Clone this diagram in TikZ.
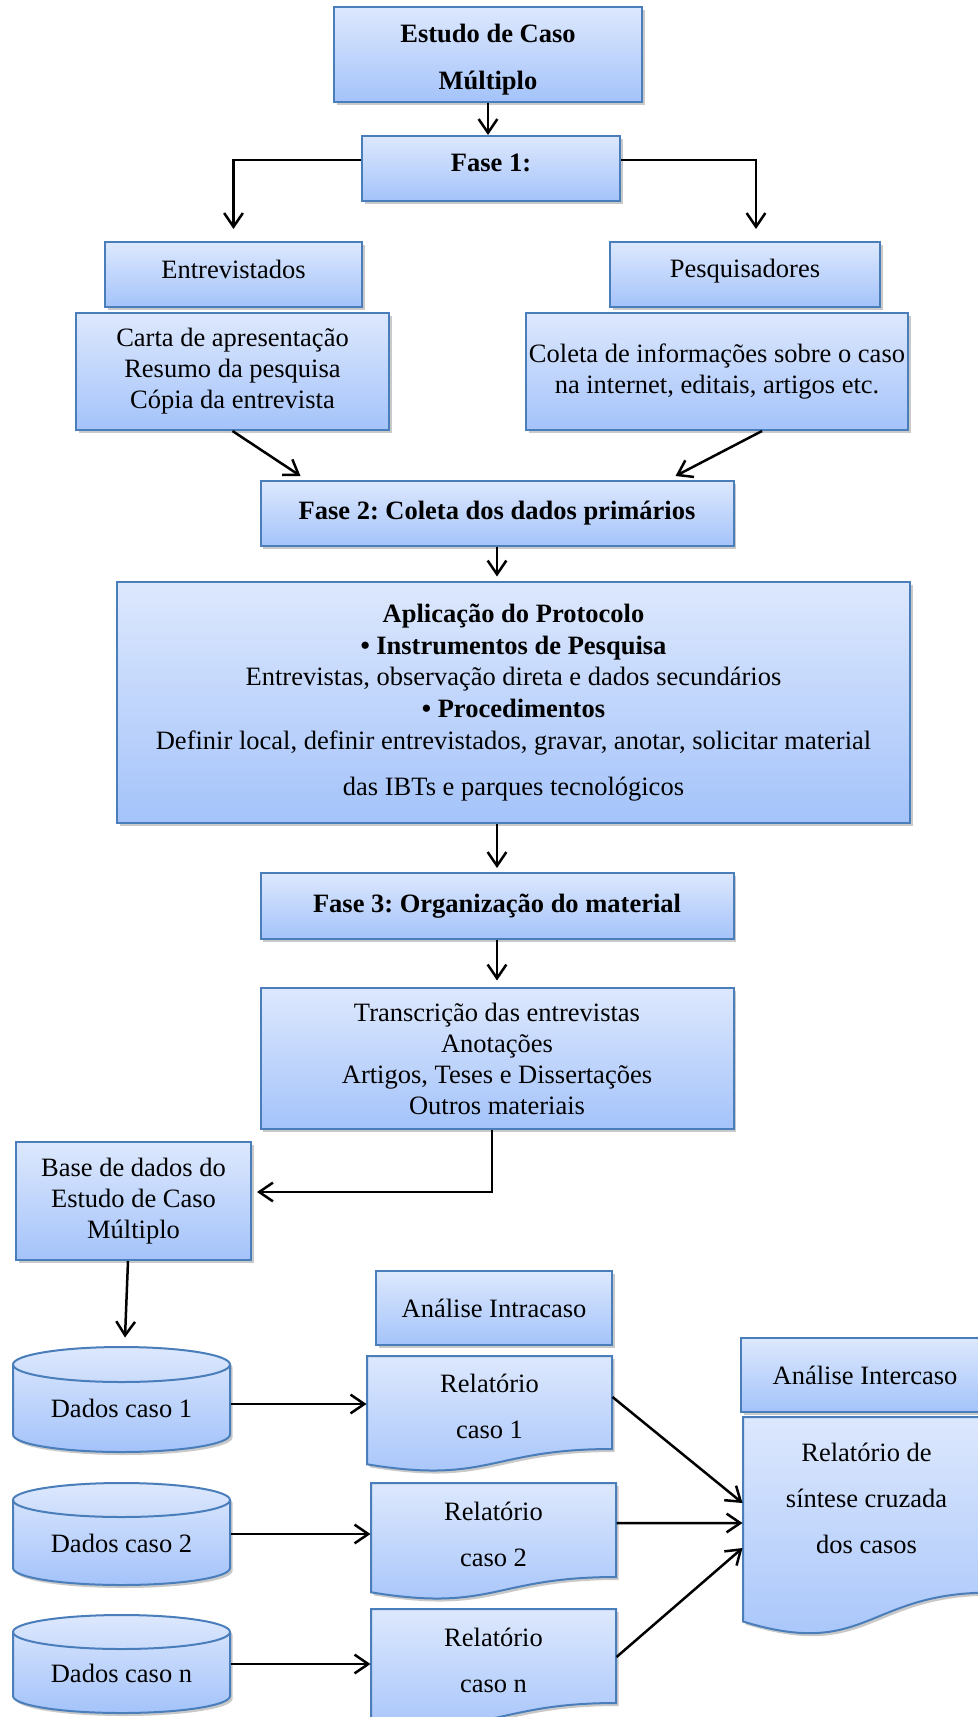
\documentclass[tikz,border=0pt]{standalone}
\usepackage{fontspec}
\setmainfont{Liberation Serif}
\usetikzlibrary{arrows.meta,shadows}
\frenchspacing
\newcommand{\sink}[1]{\rule[-#1]{0pt}{#1}}

\begin{document}
\begin{tikzpicture}[x=0.4pt, y=0.4pt,
    font=\fontsize{10.6}{12.4}\selectfont,
    heavy/.style={font=\fontsize{10.6}{12.4}\selectfont\bfseries},
    box/.style={draw=boxline, line width=0.8pt,
        top color=boxtop, bottom color=boxbot,
        drop shadow={shadow xshift=1pt, shadow yshift=-1.2pt,
                     opacity=0.3, fill=black!70}},
    rbox/.style 2 args={box, rectangle, inner sep=0pt, align=center,
        minimum width=#1*0.4pt, minimum height=#2*0.4pt},
    label/.style 2 args={rectangle, inner sep=0pt, align=center,
        minimum width=#1*0.4pt, minimum height=#2*0.4pt},
    flow/.style={line width=1pt, -{Straight Barb[length=5.5pt,width=7.5pt]}}]
    \definecolor{boxtop}{RGB}{221,232,253}
    \definecolor{boxbot}{RGB}{164,195,250}
    \definecolor{boxline}{RGB}{74,126,187}

    \useasboundingbox (0,0) rectangle (978,-1717);

    % Fase 1
    \node[rbox={308}{95}, heavy] (est) at (488,-54.5)
         {\rule{0pt}{11.6pt}Estudo de Caso\\[6.4pt]Múltiplo};
    \node[rbox={258}{65}, heavy] (f1) at (491,-168.5) {Fase 1:\sink{4.4pt}};
    \node[rbox={257}{65}] (ent) at (233.5,-274.5) {Entrevistados\sink{4.4pt}};
    \node[rbox={270}{65}] (pes) at (745,-274.5) {Pesquisadores\sink{4.7pt}};
    \node[rbox={313}{117}] (carta) at (232.5,-371.5)
         {Carta de apresentação\\Resumo da pesquisa\\Cópia da entrevista};
    \node[rbox={382}{117}] (colet) at (717,-371.5)
         {Coleta de informações sobre o caso\\na internet, editais, artigos etc.};

    % Fase 2
    \node[rbox={473}{65}, heavy] (f2) at (497,-513.5)
         {Fase 2: Coleta dos dados primários};
    \node[rbox={793}{241}] (apl) at (513.5,-702.5)
         {\textbf{Aplicação do Protocolo}\\[0.3pt]
          \textbf{• Instrumentos de Pesquisa}\\[0.3pt]
          Entrevistas, observação direta e dados secundários\\[0.3pt]
          \textbf{• Procedimentos}\\[0.3pt]
          Definir local, definir entrevistados, gravar, anotar, solicitar material\\[6pt]
          das IBTs e parques tecnológicos};

    % Fase 3
    \node[rbox={473}{66}, heavy] (f3) at (497,-906)
         {Fase 3: Organização do material};
    \node[rbox={473}{141}] (trans) at (497,-1058.5)
         {Transcrição das entrevistas\\Anotações\\Artigos, Teses e Dissertações\\Outros materiais};
    \node[rbox={235}{118}] (base) at (133.5,-1201)
         {Base de dados do\\Estudo de Caso\\Múltiplo};

    % databases
    \path[box] (13,-1364.5) -- (13,-1434.5) arc (180:360:108.5 and 17.5)
          -- (230,-1364.5) arc (0:180:108.5 and 17.5) -- cycle;
    \draw[boxline, line width=0.8pt] (13,-1364.5) arc (180:360:108.5 and 17.5);
    \path[box] (13,-1500) -- (13,-1568) arc (180:360:108.5 and 17)
          -- (230,-1500) arc (0:180:108.5 and 17) -- cycle;
    \draw[boxline, line width=0.8pt] (13,-1500) arc (180:360:108.5 and 17);
    \path[box] (13,-1632) -- (13,-1696) arc (180:360:108.5 and 17)
          -- (230,-1632) arc (0:180:108.5 and 17) -- cycle;
    \draw[boxline, line width=0.8pt] (13,-1632) arc (180:360:108.5 and 17);
    \node[label={217}{114}] (dat1) at (121.5,-1404) {\rule{0pt}{11.2pt}Dados caso 1};
    \node[label={217}{100}] (dat2) at (121.5,-1534) {\rule{0pt}{15.2pt}Dados caso 2};
    \node[label={217}{98}]  (datn) at (121.5,-1664) {\rule{0pt}{15.2pt}Dados caso n};

    % Analise intracaso
    \node[rbox={236}{74}] (intra) at (494,-1308) {Análise Intracaso};
    \path[box, xshift=367*0.4pt, yshift=-1356*0.4pt] (0,0) -- (245,0) -- (245,-93)
          .. controls (122.5,-93) and (122.5,-128.5) .. (0,-108.3) -- cycle;
    \path[box, xshift=371*0.4pt, yshift=-1483*0.4pt] (0,0) -- (245,0) -- (245,-94)
          .. controls (122.5,-94) and (122.5,-129.5) .. (0,-109.3) -- cycle;
    \path[box, xshift=371*0.4pt, yshift=-1609*0.4pt] (0,0) -- (245,0) -- (245,-94)
          .. controls (122.5,-94) and (122.5,-129.5) .. (0,-109.3) -- cycle;
    \node[label={245}{92}] (rel1) at (489.5,-1406.4) {Relatório\\[6pt]caso 1};
    \node[label={245}{94}] (rel2) at (493.5,-1534.4) {Relatório\\[6pt]caso 2};
    \node[label={245}{94}] (reln) at (493.5,-1660.4) {Relatório\\[6pt]caso n};

    % Analise intercaso
    \node[rbox={248}{74}] (inter) at (865,-1375) {Análise Intercaso};
    \path[box, xshift=743*0.4pt, yshift=-1417*0.4pt] (0,0) -- (247,0) -- (247,-175.6)
          .. controls (123.5,-175.6) and (123.5,-242.5) .. (0,-204.5) -- cycle;
    \node[label={247}{176}] (sint) at (866.5,-1498.5)
         {Relatório de\\[6pt]síntese cruzada\\[6pt]dos casos};

    % connectors
    \draw[flow] (est.south) -- (est.south |- f1.north);
    \draw[flow] ([yshift=3.4pt]f1.west) -| ([yshift=4.8pt]ent.north);
    \draw[flow] ([yshift=3.4pt]f1.east) -| ([xshift=4.4pt,yshift=4.8pt]pes.north);
    \draw[flow] (carta.south) -- ([xshift=16.4pt,yshift=1.6pt]f2.north west);
    \draw[flow] ([xshift=18pt]colet.south) -- ([xshift=-23.6pt,yshift=1.6pt]f2.north east);
    \draw[flow, shorten >=1.8pt] (f2.south) -- (f2.south |- apl.north);
    \draw[flow, shorten >=1.6pt] (apl.south -| f3.north) -- (f3.north);
    \draw[flow, shorten >=2.6pt] (f3.south) -- (trans.north);
    \draw[flow, shorten >=2pt] ([xshift=-2pt]trans.south) |- ([yshift=3.6pt]base.east);
    \draw[flow] ([xshift=-2.2pt]base.south) -- ([xshift=1.4pt,yshift=3.6pt]dat1.north);
    \draw[flow] (dat1.east) -- (dat1.east -| rel1.west);
    \draw[flow] (dat2.east) -- (dat2.east -| rel2.west);
    \draw[flow] (datn.east) -- (datn.east -| reln.west);
    \draw[flow] ([yshift=3.76pt]rel1.east) -- ([yshift=-1.8pt]sint.west);
    \draw[flow] ([yshift=4.56pt]rel2.east) -- ([yshift=-9.8pt]sint.west);
    \draw[flow] ([yshift=1.36pt]reln.east) -- ([yshift=-19.8pt]sint.west);
\end{tikzpicture}
\end{document}
